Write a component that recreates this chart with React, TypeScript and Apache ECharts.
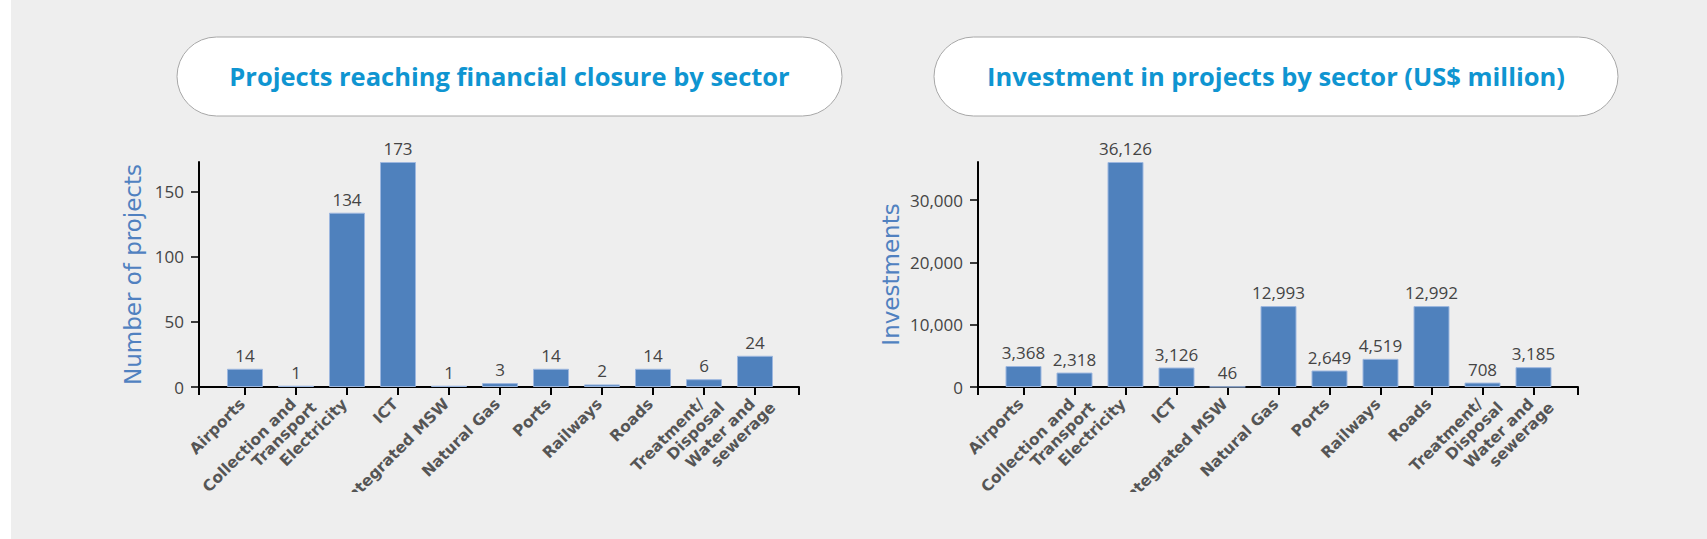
import React, { useEffect, useRef } from "react";
import * as echarts from "echarts";

const categories = [
  "Airports",
  "Collection and\nTransport",
  "Electricity",
  "ICT",
  "Integrated MSW",
  "Natural Gas",
  "Ports",
  "Railways",
  "Roads",
  "Treatment/\nDisposal",
  "Water and\nsewerage",
];
const projectCounts = [14, 1, 134, 173, 1, 3, 14, 2, 14, 6, 24];
const investments = [3368, 2318, 36126, 3126, 46, 12993, 2649, 4519, 12992, 708, 3185];
const projectTickInterval = 50;
const investmentTickInterval = 10000;
const leftTitle = "Projects reaching financial closure by sector";
const rightTitle = "Investment in projects by sector (US$ million)";
const leftAxisName = "Number of projects";
const rightAxisName = "Investments";

const FONT = "'Open Sans', sans-serif";
const VFONT = "'DejaVu Sans', Verdana, sans-serif";
const LABEL_SIZE = 15.5;
const LABEL_LH = 17;
const fmt = (v: number) => Number(v).toLocaleString("en-US");

function outerX(gridIndex: number) {
  return {
    type: "value",
    gridIndex,
    min: 0,
    max: 1,
    interval: 1,
    position: "bottom",
    axisLine: { show: true, onZero: false, lineStyle: { color: "#000", width: 2 } },
    axisTick: { show: true, length: 8, lineStyle: { color: "#000", width: 2 } },
    axisLabel: { show: false },
    splitLine: { show: false },
  };
}

function innerX(gridIndex: number) {
  return {
    type: "category",
    gridIndex,
    data: categories,
    axisLine: { show: false },
    axisTick: { show: true, alignWithLabel: true, length: 8, lineStyle: { color: "#000", width: 2 } },
    axisLabel: {
      interval: 0,
      rotate: 45,
      margin: 0,
      align: "right",
      verticalAlign: "top",
      fontFamily: VFONT,
      fontWeight: "bold",
      fontSize: LABEL_SIZE,
      lineHeight: LABEL_LH,
      color: "#555",
      formatter: (val: string) => {
        const parts = val.split("\n");
        const first = `{t|${parts[0]}}{sp| }`;
        return parts.length > 1 ? `${first}\n{t|${parts[1]}}` : first;
      },
      rich: {
        t: { fontFamily: VFONT, fontWeight: "bold", fontSize: LABEL_SIZE, lineHeight: LABEL_LH, color: "#555" },
        sp: { width: 12, fontSize: LABEL_SIZE, lineHeight: LABEL_LH },
      },
    },
    splitLine: { show: false },
  };
}

function outerY(gridIndex: number, max: number, interval: number, name: string, nameGap: number) {
  return {
    type: "value",
    gridIndex,
    min: 0,
    max,
    interval,
    name,
    nameLocation: "middle",
    nameGap,
    nameRotate: 90,
    nameTextStyle: { fontFamily: VFONT, fontSize: 23, color: "#5081c0" },
    axisLine: { show: true, lineStyle: { color: "#000", width: 2 } },
    axisTick: { show: true, length: 8, lineStyle: { color: "#000", width: 1.5 } },
    axisLabel: {
      showMaxLabel: false,
      margin: 15,
      fontFamily: FONT,
      fontSize: 17,
      color: "#444",
      formatter: (v: number) => fmt(v),
    },
    splitLine: { show: false },
  };
}

function innerY(gridIndex: number, max: number) {
  return { type: "value", gridIndex, min: 0, max, show: false, splitLine: { show: false } };
}

function barSeries(xi: number, yi: number, data: number[]) {
  return {
    type: "bar",
    xAxisIndex: xi,
    yAxisIndex: yi,
    data,
    barWidth: 36,
    itemStyle: { color: "#4f81bd", borderColor: "#9db7df", borderWidth: 1 },
    label: {
      show: true,
      position: "top",
      distance: 5,
      fontFamily: FONT,
      fontSize: 17,
      color: "#444",
      formatter: (p: any) => fmt(p.value),
    },
  };
}

export default function App() {
  const ref = useRef<HTMLDivElement>(null);
  useEffect(() => {
    if (!ref.current) return;
    const chart = echarts.init(ref.current, null, { renderer: "svg" });
    const top = 162;
    const height = 225;
    const g = { top, height, containLabel: false, outerBoundsMode: "none" };
    const titleStyle = {
      fontFamily: FONT,
      fontWeight: "bold",
      fontSize: 25.5,
      fill: "#0f95d1",
      textAlign: "center",
      textVerticalAlign: "middle",
    };
    chart.setOption({
      animation: false,
      grid: [
        { ...g, left: 199, width: 600 },
        { ...g, left: 219.5, width: 561 },
        { ...g, left: 978, width: 600 },
        { ...g, left: 998, width: 561 },
      ],
      xAxis: [outerX(0), innerX(1), outerX(2), innerX(3)],
      yAxis: [
        outerY(0, Math.max(...projectCounts), projectTickInterval, leftAxisName, 55),
        innerY(1, Math.max(...projectCounts)),
        outerY(2, Math.max(...investments), investmentTickInterval, rightAxisName, 76),
        innerY(3, Math.max(...investments)),
      ],
      series: [barSeries(1, 1, projectCounts), barSeries(3, 3, investments)],
      graphic: [
        {
          type: "rect",
          shape: { x: 177, y: 37, width: 665, height: 79, r: 40 },
          style: { fill: "#fff", stroke: "#a8a8a8", lineWidth: 1 },
        },
        { type: "text", x: 509.5, y: 76, style: { ...titleStyle, text: leftTitle } },
        {
          type: "rect",
          shape: { x: 934, y: 37, width: 684, height: 79, r: 40 },
          style: { fill: "#fff", stroke: "#a8a8a8", lineWidth: 1 },
        },
        { type: "text", x: 1276, y: 76, style: { ...titleStyle, text: rightTitle } },
      ],
    });
    return () => chart.dispose();
  }, []);

  return (
    <div style={{ position: "absolute", left: 0, top: 0, width: 1707, height: 539, background: "#fff", overflow: "hidden" }}>
      <div style={{ position: "absolute", left: 11, top: 0, width: 1696, height: 539, background: "#eeeeee" }} />
      <div
        ref={ref}
        style={{ position: "absolute", left: 0, top: 0, width: 1707, height: 492, overflow: "hidden" }}
      />
    </div>
  );
}
